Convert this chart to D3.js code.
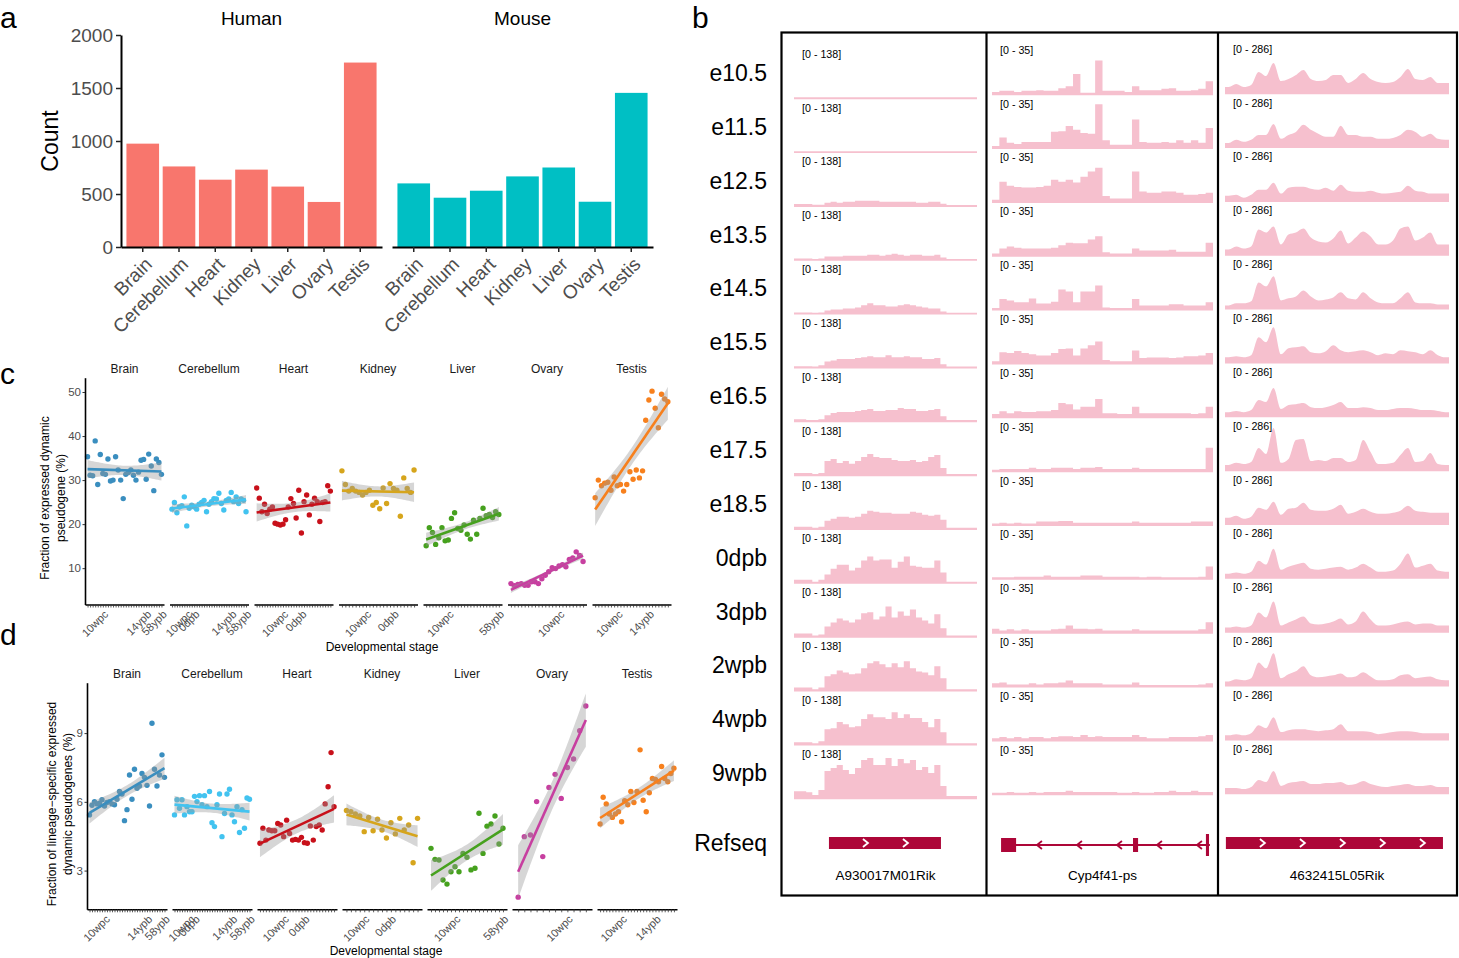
<!DOCTYPE html>
<html><head><meta charset="utf-8">
<script src="https://cdnjs.cloudflare.com/ajax/libs/d3/7.8.5/d3.min.js"></script>
<style>body{margin:0;background:#fff}svg{display:block;font-family:Arial,"Liberation Sans",Helvetica,sans-serif}</style>
</head><body><svg id="fig" width="1459" height="958"></svg>
<script>
// ================= DATA =================
const tissues = ["Brain","Cerebellum","Heart","Kidney","Liver","Ovary","Testis"];
const humanCounts = [975,760,635,730,570,425,1740];
const mouseCounts = [600,465,531,666,750,427,1454];
const countTicks = [0,500,1000,1500,2000];
const tissueColors = ["#3a8ebf","#42c3f0","#c8101a","#d6a51c","#46a11e","#c73fa0","#f7801d"];

// panel c : fraction of expressed dynamic pseudogene (%), per sample in stage order
const cBrain = [35.3,31.1,31.0,38.9,29.0,35.8,31.5,31.3,34.8,29.8,30.0,35.3,32.3,30.0,25.8,31.3,31.7,32.3,31.1,30.0,31.8,34.5,34.7,30.2,35.9,33.2,27.6,34.8,34.0,31.3];
const cCerebellum = [23.4,24.9,22.6,23.9,24.2,26.2,19.6,23.6,24.3,23.9,23.4,24.5,24.9,25.4,22.8,24.5,25.1,25.8,25.7,27.0,24.7,23.2,25.4,25.7,27.2,25.1,26.2,24.7,25.7,25.4,22.8];
const cHeart = [28.2,25.9,22.8,24.5,22.4,23.4,23.9,20.2,20.0,19.8,20.0,21.0,23.9,25.8,24.7,21.4,27.7,18.0,25.1,26.6,22.1,24.5,25.9,25.1,20.6,24.9,25.1,28.7,27.5];
const cKidney = [32.1,29.0,27.5,28.1,27.5,27.2,26.6,27.2,27.7,24.3,24.9,23.5,28.2,24.7,29.2,28.1,27.7,21.8,30.5,28.1,27.2,32.3];
const cLiver = [15.1,19.2,18.1,15.4,16.9,19.2,16.2,16.4,21.3,22.6,19.0,18.6,19.8,17.7,16.6,20.9,17.7,21.3,23.6,21.9,22.2,21.5,22.8,22.2];
const cOvary = [6.5,6.0,6.3,6.5,6.1,6.1,6.9,6.9,6.5,7.6,8.4,9.2,10.1,9.9,10.5,10.8,10.3,12.0,12.3,13.7,12.9,11.5];
const cTestis = [26.0,30.0,28.7,29.3,29.5,27.7,30.7,28.7,29.0,27.5,29.0,31.9,30.2,32.3,30.5,32.1,43.6,48.2,50.2,46.3,41.9,49.5,48.4,47.8];
const cYTicks = [10,20,30,40,50];
const cStageLabels = [
  [[6,"10wpc"],[23,"14ypb"],[29,"58ypb"]],
  [[6,"10wpc"],[9,"0dpb"],[24,"14ypb"],[30,"58ypb"]],
  [[10,"10wpc"],[17,"0dpb"]],
  [[7,"10wpc"],[15,"0dpb"]],
  [[7,"10wpc"],[23,"58ypb"]],
  [[14,"10wpc"]],
  [[7,"10wpc"],[17,"14ypb"]]
];

// panel d : fraction of lineage-specific expressed dynamic pseudogenes (%)
const dBrain = [5.43,5.85,6.01,5.91,5.94,6.09,5.82,5.97,6.01,5.91,5.87,6.11,6.45,6.34,5.18,5.66,7.17,6.11,7.42,6.59,6.69,7.24,7.07,6.72,5.82,9.43,7.42,6.69,7.17,8.05,7.07];
const dCerebellum = [5.43,6.09,5.72,6.09,5.43,5.79,5.57,5.57,6.24,6.01,6.27,5.87,6.27,5.79,6.45,5.09,4.92,5.87,6.34,4.48,5.49,6.34,6.55,5.43,5.13,5.79,4.66,5.66,4.85,6.17,6.11];
const dHeart = [4.19,4.85,4.33,4.77,4.74,4.74,5.06,4.99,4.48,5.20,4.62,4.33,4.36,4.33,4.45,4.22,4.19,4.95,4.33,4.92,4.99,4.77,5.91,6.66,8.15,5.79];
const dKidney = [5.62,5.57,5.47,5.38,4.70,5.32,4.74,5.24,4.77,4.42,5.09,4.60,5.28,4.77,4.99,3.34,5.28];
const dLiver = [3.97,3.49,3.46,2.59,2.41,2.95,3.17,2.95,3.75,3.58,3.03,3.10,5.50,3.75,4.94,5.03,5.38,4.16,4.85];
const dOvary = [1.84,4.48,4.55,6.01,3.61,6.63,7.20,6.15,7.50,7.87,9.10,10.18];
const dTestis = [5.03,6.20,5.91,5.47,5.32,5.47,5.57,5.13,6.05,5.87,6.45,5.97,6.45,8.27,6.07,5.57,6.40,7.02,6.98,6.88,7.54,7.02,6.88,7.24,7.47];
const dYTicks = [3,6,9];
const dStageLabels = [
  [[6,"10wpc"],[23,"14ypb"],[30,"58ypb"]],
  [[6,"10wpc"],[8,"0dpb"],[23,"14ypb"],[30,"58ypb"]],
  [[8,"10wpc"],[15,"0dpb"]],
  [[4,"10wpc"],[10,"0dpb"]],
  [[6,"10wpc"],[18,"58ypb"]],
  [[8,"10wpc"]],
  [[7,"10wpc"],[18,"14ypb"]]
];

// panel b : mouse developmental stages, coverage tracks (30 bins per locus)
const mouseStages = ["e10.5","e11.5","e12.5","e13.5","e14.5","e15.5","e16.5","e17.5","e18.5","0dpb","3dpb","2wpb","4wpb","9wpb"];
const geneNames = ["A930017M01Rik","Cyp4f41-ps","4632415L05Rik"];
const trackRanges = [138,35,286];
const covA930017M01Rik = [
  [2,2,2,2,2,2,2,2,2,2,2,2,2,2,2,2,2,2,2,2,2,2,2,2,2,2,2,2,2,2],
  [2,2,2,2,2,2,2,2,2,2,2,2,2,2,2,2,2,2,2,2,2,2,2,2,2,2,2,2,2,2],
  [5,5,5,3,3,9,12,9,12,12,15,15,15,15,12,12,12,12,12,12,9,9,12,12,6,2,2,2,2,2],
  [3,3,3,2,3,9,9,9,12,12,12,12,15,15,12,15,18,15,12,15,15,12,12,15,6,2,2,2,2,2],
  [3,3,3,2,3,9,12,12,15,15,18,25,31,25,25,21,21,25,28,25,21,18,15,15,6,2,2,2,2,2],
  [3,3,3,2,6,18,21,25,25,25,28,31,34,31,31,37,31,31,34,31,31,25,25,28,9,2,2,2,2,2],
  [6,6,3,3,6,18,25,28,28,28,31,34,37,31,31,34,34,40,37,37,31,31,34,37,15,3,3,3,3,3],
  [6,6,6,3,6,43,49,37,43,34,43,55,64,55,52,52,46,43,43,46,40,43,55,61,21,3,3,3,3,3],
  [6,6,6,3,6,25,31,37,37,34,37,46,55,52,49,49,46,46,46,52,49,43,40,43,28,3,3,3,3,3],
  [9,9,9,3,9,25,43,55,55,37,46,68,80,68,71,71,46,64,80,52,49,46,46,68,31,3,3,3,3,3],
  [9,9,9,3,6,31,43,55,49,43,52,71,74,52,61,92,58,77,64,83,58,49,40,68,25,3,3,3,3,3],
  [9,9,9,3,9,43,49,61,55,49,52,68,83,89,80,71,83,71,89,68,58,55,46,74,37,3,3,3,3,3],
  [6,6,6,3,9,46,49,68,61,52,55,77,92,83,83,77,98,80,92,80,80,68,52,77,37,3,3,3,3,3],
  [21,21,18,9,25,83,92,101,86,74,92,117,123,101,101,123,98,120,107,117,86,95,77,101,37,6,6,6,6,6]
];
const covCyp4f41ps = [
  [1.5,2.5,2.5,1.5,2.5,2.5,3,2.5,2.5,4.5,6,15.5,1,1,26,2.5,2.5,2.5,1.5,6,3,3,3,4,4.5,2.5,2.5,3,4,10],
  [1.5,8,4,3,4.5,4.5,4.5,4.5,12.5,13,17,14,11.5,11,34,6,2.5,2.5,2.5,22,4.5,4,4,4.5,4,6,4,6,4,15.5],
  [1.5,15.5,12.5,11.5,11,11,11.5,12.5,17,15.5,17,15,19.5,23.5,26.5,4.5,2.5,2.5,2.5,23.5,8,7,7,8,8,7,5.5,5.5,6,7],
  [1.5,5.5,7,6,5.5,5.5,5.5,5.5,6,8,10,9.5,9.5,12.5,15,2.5,1.5,1.5,1.5,5.5,4,4,4,4,4.5,3,3,3,3,10],
  [1,8,7,5.5,5.5,8.5,4.5,4.5,6,15.5,14,5.5,14,14,18.5,1.5,1,1,1,8,3,3,3,3,4,4,3,3,3,5.5],
  [1.5,8.5,8,9.5,8,7,6,6,8,11,11.5,6,11.5,14,17,2.5,1.5,1.5,1.5,10,4,4.5,4.5,4.5,4,4.5,5.5,5.5,6,8],
  [2.5,4.5,3,4.5,4,4,4.5,4.5,5.5,11,10,6,8,8,14,3,3,2.5,2.5,8,3,3,3,3,3,3,3,2.5,3,8],
  [1,1.5,1.5,1.5,1.5,2.5,1.5,1.5,2.5,2.5,2.5,1.5,2.5,2.5,3,1.5,1.5,1.5,1.5,2.5,1.5,1.5,1.5,1.5,1.5,1.5,1.5,1.5,1.5,18],
  [1,1.5,1,1.5,1,1,2.5,2.5,2.5,3,3,1.5,1.5,1.5,1.5,1.5,1.5,1.5,1.5,2.5,1.5,1.5,1.5,1.5,1.5,1.5,1.5,2.5,2.5,2.5],
  [1,1,1,1.5,1.5,1.5,1.5,2.5,1.5,1.5,1.5,1.5,2.5,2.5,2.5,1.5,1.5,1.5,1.5,1.5,1,1.5,1.5,1,1,1,1,1,1.5,9.5],
  [3,1.5,2.5,1.5,2.5,1.5,1.5,1.5,2.5,3,5.5,3,3,2.5,3,1.5,1.5,1.5,1.5,2.5,1.5,1.5,1.5,1.5,1.5,1.5,1.5,1.5,2.5,8],
  [2.5,3,1.5,1.5,1.5,2.5,1.5,2.5,2.5,3,4.5,2.5,2.5,2.5,2.5,1.5,1.5,1.5,1.5,3,1,1,1,1,1,1,1,1,1.5,2.5],
  [1.5,2.5,1.5,2.5,1.5,2.5,2.5,1.5,2.5,3,3,2.5,4,2.5,3,2.5,2.5,2.5,2.5,4,2.5,1.5,1.5,1.5,2.5,2.5,2.5,2.5,3,4],
  [1,1,1.5,1,1,1.5,1,1.5,1.5,1.5,2.5,1.5,1.5,1.5,1.5,1.5,1.5,1,1,1.5,1,1,1.5,1.5,2.5,1.5,1.5,2.5,1.5,1.5]
];
const cov4632415L05Rik = [
  [38,57,38,51,134,108,191,76,89,114,146,89,76,83,114,114,64,89,127,89,70,64,70,102,153,89,83,102,64,64],
  [25,45,32,45,76,76,146,51,76,95,140,108,83,64,64,134,76,76,64,64,51,51,57,76,108,95,64,83,51,45],
  [32,38,19,38,70,70,114,45,83,89,89,76,70,83,64,102,64,57,57,64,51,45,51,57,95,64,57,45,45,45],
  [32,51,38,51,159,140,178,64,127,140,165,108,83,76,102,153,70,108,146,114,64,64,89,165,178,89,108,140,64,64],
  [19,32,32,45,165,140,204,51,64,76,114,76,51,57,70,102,64,57,102,64,38,32,32,64,102,38,32,32,25,25],
  [32,38,32,45,159,127,223,51,89,95,102,64,57,70,108,76,64,70,76,64,45,57,51,76,70,64,51,76,45,32],
  [25,32,25,38,102,89,178,45,70,76,83,57,51,57,70,89,51,51,57,51,38,38,45,51,51,45,38,38,32,25],
  [32,45,38,51,140,102,267,45,70,191,197,57,64,57,76,76,51,64,191,114,38,38,45,95,140,51,57,108,38,32],
  [38,51,32,45,102,89,140,57,95,102,134,89,83,83,95,121,64,76,95,76,64,64,70,83,114,83,76,70,70,70],
  [25,32,25,38,108,83,184,51,70,83,95,57,51,57,64,70,51,64,89,64,38,38,45,89,153,64,76,89,45,38],
  [25,32,25,38,121,89,191,38,57,76,95,51,45,51,64,83,45,64,127,76,38,38,45,57,64,45,51,51,38,38],
  [25,38,32,45,146,108,204,45,70,89,121,64,51,57,64,76,51,57,83,57,32,32,38,64,70,45,51,57,38,32],
  [25,32,25,38,89,70,140,45,57,64,64,57,51,57,64,95,51,51,51,45,32,38,45,51,51,45,38,38,38,38],
  [32,32,25,38,83,70,140,45,64,70,76,57,57,64,64,70,51,57,76,57,45,38,45,51,57,45,45,51,38,38]
];
// gene models, locus coordinates 0-1000 across each track window
const geneA930017M01Rik = {strand:"+", span:[191,803], exons:[[191,803,12]]};
const geneCyp4f41ps = {strand:"-", span:[45,986], exons:[[41,109,14],[638,661,14],[968,982,22]]};
const gene4632415L05Rik = {strand:"+", span:[4,973], exons:[[4,973,12]]};

// ================= DRAW =================
const svg = d3.select("#fig");
const GREY = "#4d4d4d";

// panel letters
[["a",0,28],["b",692,28],["c",0,384],["d",0,645]].forEach(([t,x,y])=>{
  svg.append("text").attr("x",x).attr("y",y).attr("font-size",30).attr("fill","#000").text(t);
});

// ---------- panel a ----------
(function(){
  const y = d3.scaleLinear().domain([0,2000]).range([247,35]);
  const facets = [
    {name:"Human", vals:humanCounts, color:"#F8766D", x0:121, x1:382},
    {name:"Mouse", vals:mouseCounts, color:"#00BFC4", x0:392, x1:653}
  ];
  facets.forEach((f,fi)=>{
    const x = d3.scaleBand().domain(tissues).range([f.x0,f.x1]).paddingInner(0.1).paddingOuter(0.15);
    const g = svg.append("g");
    g.selectAll("rect").data(f.vals).join("rect")
      .attr("x",(d,i)=>x(tissues[i])).attr("width",x.bandwidth())
      .attr("y",d=>y(d)).attr("height",d=>y(0)-y(d)).attr("fill",f.color);
    const ax = g.append("g").attr("transform","translate(0,247)")
      .call(d3.axisBottom(x).tickSize(5).tickSizeOuter(0));
    ax.select(".domain").attr("stroke","#000").attr("stroke-width",2);
    ax.selectAll(".tick line").attr("stroke","#222").attr("stroke-width",1.5);
    ax.selectAll(".tick text").attr("x",0).attr("y",0).attr("dy","0.71em")
      .attr("text-anchor","end").attr("transform","translate(1,9) rotate(-45)")
      .attr("font-size",19).attr("fill",GREY).attr("font-family",null);
    svg.append("text").attr("x",(f.x0+f.x1)/2).attr("y",25).attr("text-anchor","middle")
      .attr("font-size",19).attr("fill","#000").text(f.name);
    if(fi===0){
      const ay = g.append("g").attr("transform",`translate(${f.x0},0)`)
        .call(d3.axisLeft(y).tickValues(countTicks).tickFormat(d3.format("d")).tickSize(5).tickSizeOuter(0).tickPadding(3));
      ay.select(".domain").attr("stroke","#000").attr("stroke-width",2);
      ay.selectAll(".tick line").attr("stroke","#222").attr("stroke-width",1.5);
      ay.selectAll(".tick text").attr("font-size",19).attr("fill",GREY).attr("font-family",null);
    }
  });
  svg.append("text").attr("transform","translate(58,141) rotate(-90)").attr("text-anchor","middle")
    .attr("font-size",23).attr("fill","#000").text("Count");
})();

// ---------- panel b ----------
(function(){
  const cols = [
    {x0:794, x1:977, base0:98, cov:covA930017M01Rik, gene:geneA930017M01Rik, curve:d3.curveStep},
    {x0:992, x1:1213, base0:94, cov:covCyp4f41ps, gene:geneCyp4f41ps, curve:d3.curveStep},
    {x0:1225, x1:1449, base0:93, cov:cov4632415L05Rik, gene:gene4632415L05Rik, curve:d3.curveMonotoneX}
  ];
  const rowStep = 53.85, trackH = 45;
  const pink = "#f6c0ce", crimson = "#ad0638";
  mouseStages.forEach((s,i)=>{
    svg.append("text").attr("x",767).attr("y",73+i*rowStep).attr("dy","0.35em")
      .attr("text-anchor","end").attr("font-size",23).attr("fill","#000").text(s);
  });
  svg.append("text").attr("x",767).attr("y",843).attr("dy","0.35em")
    .attr("text-anchor","end").attr("font-size",23).attr("fill","#000").text("Refseq");

  cols.forEach((c,ci)=>{
    const nb = c.cov[0].length;
    const x = d3.scaleLinear().domain([0,nb]).range([c.x0,c.x1]);
    const gx = d3.scaleLinear().domain([0,1000]).range([c.x0,c.x1]);
    c.cov.forEach((vals,ri)=>{
      const base = c.base0 + ri*rowStep;
      const y = d3.scaleLinear().domain([0,trackRanges[ci]]).range([base, base-trackH]);
      const pts = [[0,vals[0]], ...vals.map((v,i)=>[i+0.5,v]), [nb,vals[nb-1]]];
      const area = d3.area().x(d=>x(d[0])).y0(base+1.2).y1(d=>y(d[1])).curve(c.curve);
      svg.append("path").attr("d",area(pts)).attr("fill",pink);
      svg.append("text").attr("x",c.x0+8).attr("y",base-44).attr("dy","0.35em")
        .attr("font-size",10.7).attr("fill","#000").text(`[0 - ${trackRanges[ci]}]`);
    });
    const gy = 843;
    const gm = c.gene;
    const gg = svg.append("g");
    if(gm.exons.length>1){
      gg.append("line").attr("x1",gx(gm.span[0])).attr("x2",gx(gm.span[1])).attr("y1",gy+2).attr("y2",gy+2)
        .attr("stroke",crimson).attr("stroke-width",2);
    }
    gm.exons.forEach(e=>{
      gg.append("rect").attr("x",gx(e[0])).attr("width",gx(e[1])-gx(e[0]))
        .attr("y",gy+2-e[2]/2 - (gm.exons.length>1?0:2)).attr("height",e[2]).attr("fill",crimson);
    });
    const s0 = gx(gm.span[0]), s1 = gx(gm.span[1]);
    const single = gm.exons.length===1;
    for(let cx = s0+37; cx < s1-6; cx += 40){
      const dir = gm.strand==="+" ? 1 : -1;
      const cyy = single ? gy : gy+2;
      gg.append("path").attr("d",`M${cx-3*dir},${cyy-4}L${cx+2*dir},${cyy}L${cx-3*dir},${cyy+4}`)
        .attr("fill","none").attr("stroke",single?"#fff":crimson).attr("stroke-width",1.8);
    }
    svg.append("text").attr("x",(c.x0+c.x1)/2).attr("y",875).attr("dy","0.35em")
      .attr("text-anchor","middle").attr("font-size",13.5).attr("fill","#000").text(geneNames[ci]);
  });
  svg.append("rect").attr("x",781.5).attr("y",32.5).attr("width",675.5).attr("height",863)
    .attr("fill","none").attr("stroke","#000").attr("stroke-width",2.2);
  [986.5,1218].forEach(xx=>svg.append("line").attr("x1",xx).attr("x2",xx).attr("y1",32.5).attr("y2",895.5)
    .attr("stroke","#000").attr("stroke-width",2.2));
})();

// ---------- panels c & d ----------
function lm(xs, ys){
  const n = xs.length, mx = d3.mean(xs), my = d3.mean(ys);
  let sxx=0, sxy=0;
  for(let i=0;i<n;i++){ sxx += (xs[i]-mx)**2; sxy += (xs[i]-mx)*(ys[i]-my); }
  const b = sxy/sxx, a = my - b*mx;
  let sse=0; for(let i=0;i<n;i++){ sse += (ys[i]-a-b*xs[i])**2; }
  const s = Math.sqrt(sse/(n-2));
  const t = 1.96 + 2.4/(n-2);
  return {a,b,fit:x=>a+b*x,se:x=>s*Math.sqrt(1/n + (x-mx)**2/sxx),t};
}

function facetPanel(o){
  const y = d3.scaleLinear().domain(o.yDomain).range([o.yBot,o.yTop]);
  o.data.forEach((vals,i)=>{
    const n = vals.length;
    const x0 = o.left0 + i*o.step, x1 = x0 + o.width;
    const x = d3.scaleLinear().domain([-1,n]).range([x0,x1]);
    const g = svg.append("g");
    const col = tissueColors[i];
    svg.append("text").attr("x",(x0+x1)/2).attr("y",o.titleY).attr("dy","0.35em")
      .attr("text-anchor","middle").attr("font-size",12).attr("fill","#1a1a1a").text(tissues[i]);
    g.selectAll("circle").data(vals).join("circle")
      .attr("cx",(d,j)=>x(j)).attr("cy",d=>y(d)).attr("r",2.7).attr("fill",col);
    const xs = d3.range(n);
    const m = lm(xs, vals);
    const grid = d3.range(0,41).map(k=>(n-1)*k/40);
    const band = d3.area().x(d=>x(d)).y0(d=>y(m.fit(d)-m.t*m.se(d))).y1(d=>y(m.fit(d)+m.t*m.se(d)));
    g.append("path").attr("d",band(grid)).attr("fill","#999").attr("fill-opacity",0.4);
    g.append("line").attr("x1",x(0)).attr("x2",x(n-1)).attr("y1",y(m.fit(0))).attr("y2",y(m.fit(n-1)))
      .attr("stroke",col).attr("stroke-width",2.6);
    const labs = new Map(o.stageLabels[i]);
    const ax = g.append("g").attr("transform",`translate(0,${o.yBot})`)
      .call(d3.axisBottom(x).tickValues(xs).tickSize(3).tickSizeOuter(0).tickFormat(d=>labs.get(d)||""));
    ax.select(".domain").attr("stroke","#000").attr("stroke-width",1.6);
    ax.selectAll(".tick line").attr("stroke","#333").attr("stroke-width",0.8);
    ax.selectAll(".tick text").attr("x",0).attr("y",0).attr("dy","0.71em")
      .attr("text-anchor","end").attr("transform",`translate(0,${o.labOff}) rotate(-45)`)
      .attr("font-size",11).attr("fill",GREY).attr("font-family",null);
    if(i===0){
      const ay = g.append("g").attr("transform",`translate(${x0},0)`)
        .call(d3.axisLeft(y).tickValues(o.yTicks).tickSize(2.5).tickSizeOuter(0).tickPadding(1.5));
      ay.select(".domain").attr("stroke","#000").attr("stroke-width",1.6);
      ay.selectAll(".tick line").attr("stroke","#333");
      ay.selectAll(".tick text").attr("font-size",11.5).attr("fill",GREY).attr("font-family",null);
    }
  });
  o.yTitle.forEach((t,k)=>{
    svg.append("text").attr("transform",`translate(${o.yTitleX[k]},${o.yTitleY}) rotate(-90)`)
      .attr("dy","0.35em").attr("text-anchor","middle").attr("font-size",12).attr("fill","#000").text(t);
  });
  svg.append("text").attr("x",o.xTitleX).attr("y",o.xTitleY).attr("dy","0.35em")
    .attr("text-anchor","middle").attr("font-size",12).attr("fill","#000").text("Developmental stage");
}

facetPanel({
  data:[cBrain,cCerebellum,cHeart,cKidney,cLiver,cOvary,cTestis],
  stageLabels:cStageLabels, yTicks:cYTicks,
  yDomain:[1.75,53.25], yTop:377.7, yBot:604.5,
  left0:85, step:84.5, width:79, titleY:369, labOff:5,
  yTitle:["Fraction of expressed dynamic","pseudogene (%)"], yTitleX:[45,61], yTitleY:498,
  xTitleX:382, xTitleY:647
});
facetPanel({
  data:[dBrain,dCerebellum,dHeart,dKidney,dLiver,dOvary,dTestis],
  stageLabels:dStageLabels, yTicks:dYTicks,
  yDomain:[1.31,11.2], yTop:682.7, yBot:909.3,
  left0:87, step:85, width:80, titleY:674, labOff:5,
  yTitle:["Fraction of lineage\u2212specific expressed","dynamic pseudogenes (%)"], yTitleX:[52,68], yTitleY:804,
  xTitleX:386, xTitleY:951
});
</script></body></html>
